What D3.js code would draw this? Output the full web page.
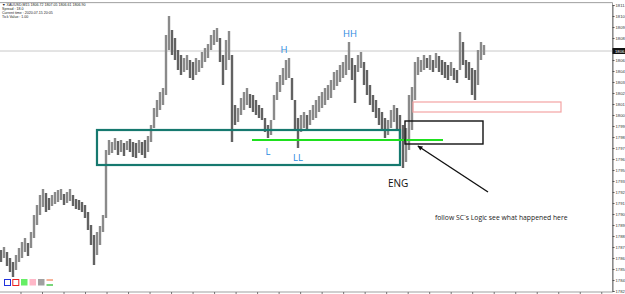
<!DOCTYPE html>
<html><head><meta charset="utf-8">
<script src="https://cdn.jsdelivr.net/npm/d3@7"></script>
<style>html,body{margin:0;padding:0;background:#fff;overflow:hidden}svg{display:block}</style>
</head><body>
<svg id="c" width="625" height="294"></svg>
<script>
// ---- data ----
const barHigh = [1787.0,1787.3,1786.8,1786.2,1785.8,1786.5,1787.2,1787.8,1788.2,1787.7,1788.8,1790.5,1791.5,1792.5,1793.1,1792.7,1792.2,1792.5,1792.8,1793.0,1793.1,1792.6,1792.8,1793.1,1792.5,1792.1,1792.0,1791.8,1791.5,1790.8,1789.5,1788.5,1788.8,1789.4,1790.5,1797.0,1798.0,1797.8,1798.2,1797.9,1798.0,1797.7,1797.9,1798.1,1797.8,1797.7,1798.0,1797.8,1798.0,1798.4,1799.5,1801.2,1802.0,1802.8,1803.2,1808.5,1810.4,1809.0,1808.2,1807.0,1806.5,1806.2,1806.5,1806.0,1805.8,1806.2,1806.0,1806.8,1807.2,1807.6,1808.5,1809.0,1809.2,1808.2,1806.5,1808.0,1808.9,1806.5,1801.5,1801.2,1802.2,1802.8,1803.2,1802.6,1802.5,1802.0,1801.5,1801.2,1800.2,1799.5,1800.0,1802.5,1803.8,1804.5,1805.2,1806.0,1806.2,1804.2,1802.0,1800.2,1800.5,1800.8,1800.5,1801.0,1801.5,1802.0,1802.4,1802.8,1803.2,1803.5,1804.0,1804.8,1805.0,1805.5,1805.8,1806.5,1807.8,1806.2,1805.5,1806.5,1806.8,1805.8,1805.0,1803.5,1802.5,1802.0,1801.2,1800.8,1800.2,1800.0,1801.0,1801.5,1801.2,1800.5,1799.5,1799.2,1802.5,1803.3,1805.8,1806.3,1806.0,1806.5,1806.2,1806.5,1806.0,1806.7,1806.4,1806.0,1805.8,1805.5,1805.8,1805.2,1805.0,1808.8,1807.8,1806.0,1805.8,1805.2,1805.0,1807.0,1807.8,1807.5];
const barLow = [1785.8,1786.2,1785.4,1784.8,1784.3,1785.0,1785.8,1786.2,1786.8,1786.4,1787.2,1788.2,1789.5,1790.5,1791.3,1790.8,1791.0,1791.4,1791.6,1791.8,1792.0,1791.5,1791.7,1791.9,1791.4,1791.1,1791.0,1790.8,1790.2,1789.0,1787.5,1785.5,1786.5,1787.5,1788.8,1790.2,1796.5,1796.7,1797.0,1796.5,1796.8,1796.4,1797.0,1796.8,1796.3,1796.2,1796.7,1796.5,1796.2,1796.8,1797.8,1799.2,1800.3,1801.0,1801.5,1802.5,1807.0,1806.5,1806.0,1805.0,1804.5,1804.8,1805.0,1804.2,1804.0,1804.5,1804.8,1805.2,1805.8,1806.2,1807.0,1807.5,1807.8,1805.8,1803.5,1805.0,1806.0,1797.8,1799.5,1799.8,1800.5,1801.0,1801.5,1801.2,1800.8,1800.5,1800.2,1800.0,1798.8,1798.2,1798.5,1800.0,1802.0,1802.8,1803.5,1804.0,1804.2,1802.0,1799.0,1797.2,1798.8,1799.2,1799.0,1799.5,1800.0,1800.2,1800.8,1801.2,1801.5,1802.0,1802.2,1803.0,1803.4,1803.8,1804.2,1804.5,1805.0,1804.0,1801.7,1804.8,1805.2,1803.5,1802.5,1801.5,1800.8,1800.2,1799.5,1799.0,1798.2,1798.5,1799.2,1799.8,1799.0,1798.0,1795.2,1795.8,1797.0,1799.0,1802.0,1804.5,1804.8,1805.0,1805.2,1805.0,1804.8,1805.2,1804.8,1804.5,1804.2,1804.0,1804.4,1804.0,1803.7,1805.0,1805.5,1804.2,1804.0,1802.5,1802.0,1803.5,1806.0,1806.5];
const priceTicks = [1811.50,1810.40,1809.30,1808.20,1807.10,1806.00,1804.90,1803.80,1802.70,1801.60,1800.50,1799.40,1798.30,1797.20,1796.10,1795.00,1793.90,1792.80,1791.70,1790.60,1789.50,1788.40,1787.30,1786.20,1785.10,1784.00,1782.90];
const currentPrice = 1806.90;
const headerLines = ["\u25BC XAUUSD,M15  1806.72 1807.05 1806.61 1806.90","Spread : 18.0","Current time : 2020.07.15 20:05","Tick Value : 1.00"];
// annotations in bar-index / price units
const tealBox = {x0:32.33, x1:133.33, p0:1799.0, p1:1795.5};
const greenLine = {x0:84, x1:147.67, p:1798.0};
const blackBox = {x0:135, x1:161, p0:1799.9, p1:1797.6};
const pinkBox = {x0:137.67, x1:187, p0:1801.8, p1:1800.8};
const arrow = {x0:162.67, p0:1792.8, x1:139.3, p1:1797.4};
const swingLabels = [{t:"H",x:94.7,p:1806.7},{t:"HH",x:116.7,p:1808.3},{t:"L",x:89.3,p:1796.5},{t:"LL",x:99.3,p:1795.9}];
const engLabel = {t:"ENG",x:132.7,p:1793.3};
const noteLabel = {t:"follow SC`s Logic see what happened here",x:145,p:1790.0};

// ---- layout ----
const svg = d3.select("#c");
const plotR = 612.5, plotT = 2.7, plotB = 292;
const x = d3.scaleLinear().domain([0, 204.17]).range([0, plotR]);
const y = d3.scaleLinear().domain([1782.9, 1811.5]).range([291, 5]);

// frame
svg.append("rect").attr("x",-1).attr("y",plotT).attr("width",plotR+1).attr("height",plotB-plotT)
  .attr("fill","none").attr("stroke","#888").attr("stroke-width",0.8);

// current price line
svg.append("line").attr("x1",0).attr("x2",plotR).attr("y1",y(currentPrice)).attr("y2",y(currentPrice))
  .attr("stroke","#c8c8c8").attr("stroke-width",1);

// bars
const bars = barHigh.map((h,i)=>({i,h,l:barLow[i]}));
svg.append("g").selectAll("line").data(bars).join("line")
  .attr("x1",d=>x(d.i)+1).attr("x2",d=>x(d.i)+1)
  .attr("y1",d=>y(d.h)).attr("y2",d=>y(d.l))
  .attr("stroke",(d,i)=>{ if(i===0) return "#666"; const m=(d.h+d.l)/2, pm=(bars[i-1].h+bars[i-1].l)/2; return m>=pm?"#8a8a8a":"#626262";})
  .attr("stroke-width",2.4);

// teal box
svg.append("rect").attr("x",x(tealBox.x0)).attr("y",y(tealBox.p0))
  .attr("width",x(tealBox.x1)-x(tealBox.x0)).attr("height",y(tealBox.p1)-y(tealBox.p0))
  .attr("fill","none").attr("stroke","#16796f").attr("stroke-width",2.2);
// green line
svg.append("line").attr("x1",x(greenLine.x0)).attr("x2",x(greenLine.x1))
  .attr("y1",y(greenLine.p)).attr("y2",y(greenLine.p)).attr("stroke","#1ee01e").attr("stroke-width",2);
// black box
svg.append("rect").attr("x",x(blackBox.x0)).attr("y",y(blackBox.p0))
  .attr("width",x(blackBox.x1)-x(blackBox.x0)).attr("height",y(blackBox.p1)-y(blackBox.p0))
  .attr("fill","none").attr("stroke","#111").attr("stroke-width",1.4);
// pink box
svg.append("rect").attr("x",x(pinkBox.x0)).attr("y",y(pinkBox.p0))
  .attr("width",x(pinkBox.x1)-x(pinkBox.x0)).attr("height",y(pinkBox.p1)-y(pinkBox.p0))
  .attr("fill","none").attr("stroke","#f4a3a3").attr("stroke-width",1.2);

// arrow
svg.append("defs").append("marker").attr("id","ah").attr("viewBox","0 0 10 10").attr("refX",9).attr("refY",5)
  .attr("markerWidth",6).attr("markerHeight",5).attr("orient","auto").attr("markerUnits","userSpaceOnUse")
  .append("path").attr("d","M0,0L10,5L0,10z").attr("fill","#111");
svg.append("line").attr("x1",x(arrow.x0)).attr("y1",y(arrow.p0)).attr("x2",x(arrow.x1)).attr("y2",y(arrow.p1))
  .attr("stroke","#111").attr("stroke-width",1.4).attr("marker-end","url(#ah)");

// labels
svg.append("g").selectAll("text").data(swingLabels).join("text")
  .attr("x",d=>x(d.x)).attr("y",d=>y(d.p)).attr("text-anchor","middle")
  .attr("font-family","Open Sans, sans-serif").attr("font-size",9.5).attr("fill","#2a8be0").text(d=>d.t);
svg.append("text").attr("x",x(engLabel.x)).attr("y",y(engLabel.p)).attr("text-anchor","middle")
  .attr("font-family","Open Sans, sans-serif").attr("font-size",10).attr("fill","#111").text(engLabel.t);
svg.append("text").attr("x",x(noteLabel.x)).attr("y",y(noteLabel.p))
  .attr("font-family","Open Sans, sans-serif").attr("font-size",6.8).attr("fill","#222").text(noteLabel.t);

// right axis (labels run off the window edge, as in the reference)
const ax = svg.append("g").attr("transform",`translate(${plotR},0)`)
  .call(d3.axisRight(y).tickValues(priceTicks).tickSize(2).tickFormat(d3.format(".2f")));
ax.select(".domain").attr("stroke","#777");
ax.selectAll(".tick").filter(d=>Math.abs(y(d)-y(currentPrice))<5).select("text").remove();
ax.selectAll("text").attr("font-size",4.2).attr("font-family","Liberation Sans, sans-serif").attr("fill","#333").attr("x",3);
ax.selectAll("line").attr("stroke","#555");
// current price tag
const tag = svg.append("g").attr("transform",`translate(${plotR},${y(currentPrice)})`);
tag.append("rect").attr("x",0).attr("y",-3).attr("width",13).attr("height",6).attr("fill","#111");
tag.append("text").attr("x",2.5).attr("y",1.5).attr("font-size",4.2).attr("fill","#fff")
  .attr("font-family","Liberation Sans, sans-serif").text(d3.format(".2f")(currentPrice));

// bottom ticks
const timeTicks = d3.range(7, 205, 7.17);
svg.append("g").selectAll("line").data(timeTicks).join("line")
  .attr("x1",d=>x(d)).attr("x2",d=>x(d)).attr("y1",plotB).attr("y2",plotB+2).attr("stroke","#555").attr("stroke-width",0.8);

// header
svg.append("g").selectAll("text").data(headerLines).join("text")
  .attr("x",2).attr("y",(d,i)=>6+i*4.1)
  .attr("font-family","Liberation Sans, sans-serif").attr("font-size",3.6).attr("fill","#222").text(d=>d);

// toolbar icons
const icons = svg.append("g");
icons.append("rect").attr("x",4.5).attr("y",279.5).attr("width",6).attr("height",6).attr("fill","none").attr("stroke","#2233dd").attr("stroke-width",1);
icons.append("rect").attr("x",12.8).attr("y",279.5).attr("width",6).attr("height",6).attr("fill","none").attr("stroke","#ee2222").attr("stroke-width",1);
icons.append("rect").attr("x",21).attr("y",279).attr("width",6.5).attr("height",6.5).attr("fill","#66ee66");
icons.append("rect").attr("x",29.5).attr("y",279).attr("width",6.5).attr("height",6.5).attr("fill","#ffb8c8");
icons.append("rect").attr("x",38).attr("y",279).attr("width",6.5).attr("height",6.5).attr("fill","#a0a0a0");
icons.append("line").attr("x1",46.5).attr("x2",53).attr("y1",280).attr("y2",280).attr("stroke","#ee6633").attr("stroke-width",1);
icons.append("line").attr("x1",46.5).attr("x2",53).attr("y1",285).attr("y2",285).attr("stroke","#22bb22").attr("stroke-width",1.2);
</script>
</body></html>
